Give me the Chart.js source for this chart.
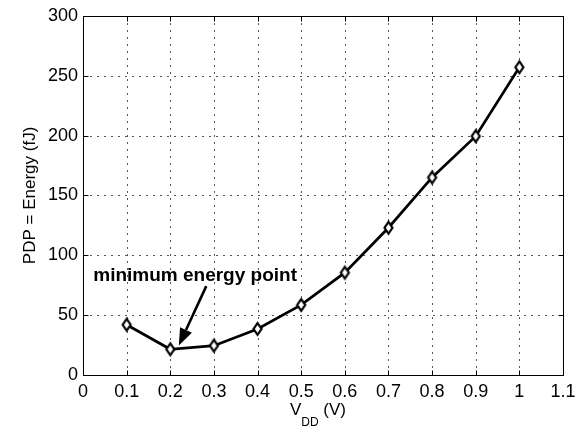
<!DOCTYPE html>
<html>
<head>
<meta charset="utf-8">
<script src="https://cdn.jsdelivr.net/npm/chart.js@4"></script>
<style>
    html, body { margin: 0; padding: 0; background: #fff; }
    #wrap { width: 582px; height: 429px; }
</style>
</head>
<body>
<div id="wrap"><canvas id="pdpChart" width="582" height="429"></canvas></div>
<script>
// ── Dades ────────────────────────────────────────────────────
const vddValues    = [0.1, 0.2, 0.3, 0.4, 0.5, 0.6, 0.7, 0.8, 0.9, 1.0];
const energyValues = [42, 21.5, 24.5, 38.5, 58.5, 85.5, 123, 165, 199.5, 257];
const xTicks = [0, 0.1, 0.2, 0.3, 0.4, 0.5, 0.6, 0.7, 0.8, 0.9, 1, 1.1];
const yTicks = [0, 50, 100, 150, 200, 250, 300];
const xTitle = { main: 'V', sub: 'DD', tail: ' (V)' };
const yTitle = 'PDP = Energy (fJ)';
const noteText = 'minimum energy point';
// annotation anchor points in data units
const noteAt    = { x: 0.0235, y: 78.3 };
const arrowFrom = { x: 0.2825, y: 74.2 };
const arrowTo   = { x: 0.2196, y: 24.7 };

const FONT = "'Liberation Sans', Arial, Helvetica, sans-serif";

// diamant MATLAB (més alt que ample)
function diamondMarker(halfW, halfH, lw) {
    const c = document.createElement('canvas');
    c.width  = Math.ceil(2 * halfW + 2 * lw + 2);
    c.height = Math.ceil(2 * halfH + 2 * lw + 2);
    const g = c.getContext('2d');
    const cx = c.width / 2, cy = c.height / 2;
    g.beginPath();
    g.moveTo(cx, cy - halfH);
    g.lineTo(cx + halfW, cy);
    g.lineTo(cx, cy + halfH);
    g.lineTo(cx - halfW, cy);
    g.closePath();
    g.fillStyle = '#fff';
    g.fill();
    g.lineWidth = lw;
    g.strokeStyle = '#000';
    g.stroke();
    return c;
}

// ── Eixos estil MATLAB ───────────────────────────────────────
const matlabAxes = {
    id: 'matlabAxes',
    beforeDatasetsDraw(chart) {
        const { ctx, chartArea: a, scales: { x, y } } = chart;
        ctx.save();
        ctx.strokeStyle = '#555';
        ctx.lineWidth = 1;
        ctx.setLineDash([2, 5]);
        xTicks.slice(1, -1).forEach(v => {
            const px = Math.round(x.getPixelForValue(v)) + 0.5;
            ctx.beginPath(); ctx.moveTo(px, a.bottom); ctx.lineTo(px, a.top); ctx.stroke();
        });
        yTicks.slice(1, -1).forEach(v => {
            const py = Math.round(y.getPixelForValue(v)) + 0.5;
            ctx.beginPath(); ctx.moveTo(a.left, py); ctx.lineTo(a.right, py); ctx.stroke();
        });
        ctx.restore();
    },
    afterDatasetsDraw(chart) {
        const { ctx, chartArea: a, scales: { x, y } } = chart;
        const L = Math.round(a.left) + 0.5, R = Math.round(a.right) + 0.5;
        const T = Math.round(a.top) + 0.5,  B = Math.round(a.bottom) + 0.5;
        const tick = 5;

        ctx.save();
        ctx.strokeStyle = '#000';
        ctx.lineWidth = 1;
        ctx.strokeRect(L, T, R - L, B - T);
        ctx.beginPath();
        xTicks.forEach(v => {
            const px = Math.round(x.getPixelForValue(v)) + 0.5;
            ctx.moveTo(px, B); ctx.lineTo(px, B - tick);
            ctx.moveTo(px, T); ctx.lineTo(px, T + tick);
        });
        yTicks.forEach(v => {
            const py = Math.round(y.getPixelForValue(v)) + 0.5;
            ctx.moveTo(L, py); ctx.lineTo(L + tick, py);
            ctx.moveTo(R, py); ctx.lineTo(R - tick, py);
        });
        ctx.stroke();

        // títol eix x amb subíndex
        ctx.fillStyle = '#000';
        ctx.textBaseline = 'alphabetic';
        ctx.textAlign = 'left';
        const mainFont = `17px ${FONT}`, subFont = `12px ${FONT}`;
        ctx.font = mainFont; const wMain = ctx.measureText(xTitle.main).width;
        const wTail = ctx.measureText(xTitle.tail).width;
        ctx.font = subFont;  const wSub = ctx.measureText(xTitle.sub).width;
        let cx = (a.left + a.right) / 2 - 5 - (wMain + wSub + wTail) / 2;
        const base = a.bottom + 40;
        ctx.font = mainFont; ctx.fillText(xTitle.main, cx, base); cx += wMain;
        ctx.font = subFont;  ctx.fillText(xTitle.sub, cx, base + 11); cx += wSub;
        ctx.font = mainFont; ctx.fillText(xTitle.tail, cx, base);

        // títol eix y
        ctx.save();
        ctx.translate(35, (a.top + a.bottom) / 2);
        ctx.rotate(-Math.PI / 2);
        ctx.textAlign = 'center';
        ctx.font = `17px ${FONT}`;
        ctx.fillText(yTitle, 0, 0);
        ctx.restore();

        // anotació
        ctx.font = `bold 19px ${FONT}`;
        ctx.textAlign = 'left';
        ctx.fillText(noteText, x.getPixelForValue(noteAt.x), y.getPixelForValue(noteAt.y));

        const x0 = x.getPixelForValue(arrowFrom.x), y0 = y.getPixelForValue(arrowFrom.y);
        const x1 = x.getPixelForValue(arrowTo.x),   y1 = y.getPixelForValue(arrowTo.y);
        const ang = Math.atan2(y1 - y0, x1 - x0);
        const headLen = 17, headHalf = 6.5;
        const bx = x1 - headLen * Math.cos(ang), by = y1 - headLen * Math.sin(ang);
        ctx.lineWidth = 2.6;
        ctx.beginPath(); ctx.moveTo(x0, y0); ctx.lineTo(bx, by); ctx.stroke();
        ctx.beginPath();
        ctx.moveTo(x1, y1);
        ctx.lineTo(bx + headHalf * Math.sin(ang), by - headHalf * Math.cos(ang));
        ctx.lineTo(bx - headHalf * Math.sin(ang), by + headHalf * Math.cos(ang));
        ctx.closePath();
        ctx.fill();
        ctx.restore();
    },
};

new Chart(document.getElementById('pdpChart'), {
    type: 'line',
    data: {
        datasets: [{
            data: vddValues.map((v, i) => ({ x: v, y: energyValues[i] })),
            borderColor: '#000',
            borderWidth: 2.7,
            pointStyle: diamondMarker(4, 5.8, 2.2),
            pointRadius: 6,
            tension: 0,
        }],
    },
    options: {
        responsive: false,
        animation: false,
        layout: { padding: { top: 11, right: 19, left: 0, bottom: 0 } },
        plugins: { legend: { display: false }, tooltip: { enabled: false } },
        scales: {
            x: {
                type: 'linear',
                min: 0, max: 1.1,
                afterBuildTicks: s => { s.ticks = xTicks.map(v => ({ value: v })); },
                afterFit: s => { s.height = 54; },
                grid: { display: false, drawTicks: false },
                border: { display: false },
                ticks: {
                    autoSkip: false, maxRotation: 0, padding: 6,
                    color: '#000', font: { family: FONT, size: 18 },
                    callback: v => String(+v.toFixed(1)),
                },
            },
            y: {
                min: 0, max: 300,
                afterBuildTicks: s => { s.ticks = yTicks.map(v => ({ value: v })); },
                afterFit: s => { s.width = 83; },
                grid: { display: false, drawTicks: false },
                border: { display: false },
                ticks: {
                    autoSkip: false, padding: 5,
                    color: '#000', font: { family: FONT, size: 18 },
                },
            },
        },
    },
    plugins: [matlabAxes],
});
</script>
</body>
</html>
